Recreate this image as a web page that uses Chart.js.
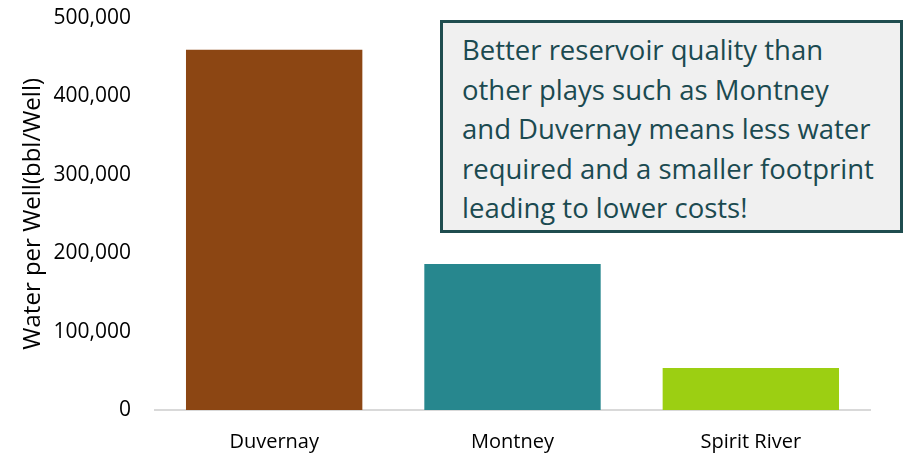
<!DOCTYPE html>
<html>
<head>
<meta charset="utf-8">
<script src="https://cdn.jsdelivr.net/npm/chart.js@4"></script>
<style>
  html, body { margin: 0; padding: 0; background: #fff; }
  #wrap { position: relative; width: 904px; height: 457px; overflow: hidden; }
  #note {
    position: absolute; left: 440px; top: 20px; width: 463px; height: 213px;
    box-sizing: border-box; border: 3px solid #1F4D4F; background: #F0F0F0;
    color: #1B4A50; font-family: "Open Sans", sans-serif; font-size: 27.5px;
    line-height: 39.5px; padding: 7px 0 0 19px; white-space: pre;
  }
</style>
</head>
<body>
<div id="wrap">
  <canvas id="c" width="904" height="457"></canvas>
  <div id="note">Better reservoir quality than
other plays such as Montney
and Duvernay means less water
required and a smaller footprint
leading to lower costs!</div>
</div>
<script>
const categories = ['Duvernay', 'Montney', 'Spirit River'];
const waterPerWell = [459000, 186000, 53500];
const yTicks = [0, 100000, 200000, 300000, 400000, 500000];
const barColors = ['#8C4613', '#27878E', '#9CCF12'];

new Chart(document.getElementById('c'), {
  type: 'bar',
  data: {
    labels: categories,
    datasets: [{
      data: waterPerWell,
      backgroundColor: barColors,
      categoryPercentage: 1,
      barPercentage: 0.74
    }]
  },
  options: {
    responsive: false,
    animation: false,
    layout: { padding: { top: 0, right: 34, left: 0, bottom: 0 } },
    plugins: { legend: { display: false }, tooltip: { enabled: false } },
    scales: {
      x: {
        grid: { display: false },
        border: { display: true, color: '#D9D9D9', width: 2 },
        ticks: { color: '#000', font: { family: 'Open Sans', size: 20 }, padding: 12 },
        afterFit: s => { s.height = 47; }
      },
      y: {
        min: 0, max: 500000,
        afterBuildTicks: s => { s.ticks = yTicks.map(v => ({ value: v })); },
        grid: { display: false, drawTicks: true, tickLength: 19 },
        border: { display: false },
        ticks: {
          color: '#000', font: { family: 'Open Sans', size: 21 }, padding: 5,
          callback: v => Number(v).toLocaleString('en-US')
        },
        title: {
          display: true, text: 'Water per Well(bbl/Well)', color: '#000',
          font: { family: 'Open Sans', size: 24 }, padding: { top: 19, bottom: 0 }
        },
        afterFit: s => { s.width = 155; }
      }
    }
  }
});
</script>
</body>
</html>
